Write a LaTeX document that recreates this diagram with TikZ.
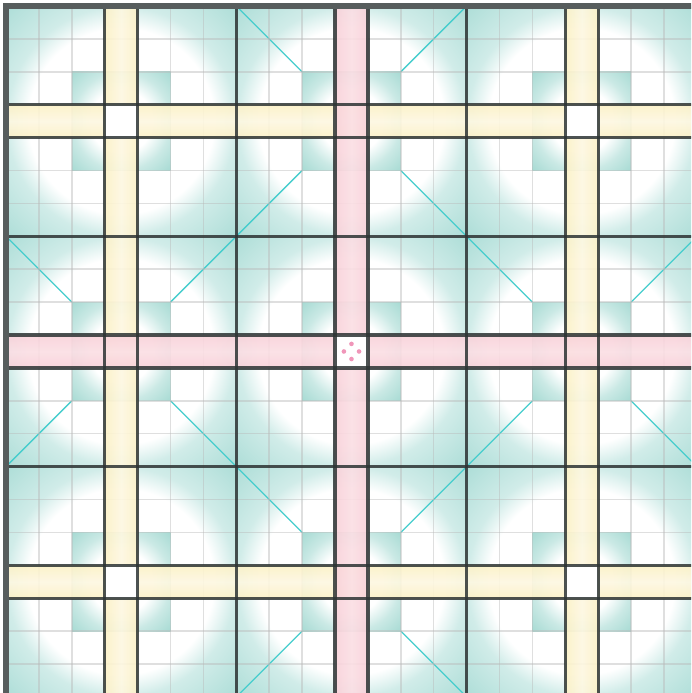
\documentclass[tikz,border=0pt]{standalone}
\usepackage{xcolor}
\usepackage{tikz}
\usetikzlibrary{positioning,calc,backgrounds}
\definecolor{glowteal}{RGB}{145,210,202}
\definecolor{coreteal}{RGB}{130,203,193}
\definecolor{diagcyan}{RGB}{70,205,205}
\definecolor{bandyel}{RGB}{250,234,170}
\definecolor{bandpink}{RGB}{247,196,206}
\definecolor{dotpink}{RGB}{240,150,185}
\definecolor{darkline}{RGB}{45,52,52}
% radii in bp, 1 cell = 28.35bp
\pgfdeclareradialshading{blockglow}{\pgfpoint{0bp}{0bp}}{color(0bp)=(white); color(80bp)=(white); color(99bp)=(glowteal!42); color(141bp)=(glowteal!75)}
\pgfdeclareradialshading{coreglow}{\pgfpoint{0bp}{0bp}}{color(0bp)=(white); color(27bp)=(white); color(42.5bp)=(coreteal!42); color(61bp)=(coreteal!72)}
\pgfdeclarehorizontalshading{bandyelshade}{100bp}{color(0bp)=(bandyel); color(50bp)=(bandyel!35); color(100bp)=(bandyel)}
\pgfdeclarehorizontalshading{bandpinkshade}{100bp}{color(0bp)=(bandpink); color(50bp)=(bandpink!55); color(100bp)=(bandpink)}
\tikzset{
  glow/.style={path picture={\pgftransformshift{\pgfpointanchor{path picture bounding box}{center}}%
    \pgflowlevelsynccm\pgfuseshading{#1}}},
  blockbox/.style={rectangle,minimum size=7cm,inner sep=0pt,outer sep=0pt,fill=white,glow=blockglow},
  corebox/.style={rectangle,minimum size=3cm,inner sep=0pt,outer sep=0pt,fill=white,glow=coreglow},
  vband/.style={rectangle,minimum width=1cm,minimum height=21cm,inner sep=0pt,outer sep=0pt,
    shade,shading=#1,opacity=0.9},
  hband/.style={rectangle,minimum width=21cm,minimum height=1cm,inner sep=0pt,outer sep=0pt,
    shade,shading=#1,shading angle=90,opacity=0.9},
  hole/.style={rectangle,minimum size=1cm,inner sep=0pt,outer sep=0pt,fill=white},
  pip/.style={circle,minimum size=0.14cm,inner sep=0pt,fill=dotpink},
  diag/.style={draw=diagcyan,line width=1.1pt},
  gridline/.style={draw=gray!55,line width=1.3pt,opacity=0.45},
  seam/.style={draw=darkline,line width=3pt,opacity=0.85},
  frame/.style={draw=darkline!80,line width=4.5pt}
}
\begin{document}
\begin{tikzpicture}[x=1cm,y=-1cm]
    \useasboundingbox (-0.182,-0.182) rectangle (20.82,20.88);
    \clip (-0.182,-0.182) rectangle (20.82,20.88);

    % Blocks
    \foreach \i in {0,1,2} {
      \foreach \j in {0,1,2} {
        \node[blockbox] (b-\i-\j) at ({7*\i+3.5},{7*\j+3.5}) {};
        \node[corebox] (c-\i-\j) at ({7*\i+3.5},{7*\j+3.5}) {};
      }
    }

    % Diagonals
    \foreach \i/\j in {1/0,0/1,2/1,1/2} {
      \draw[diag] (b-\i-\j.north west) -- (c-\i-\j.north west);
      \draw[diag] (b-\i-\j.north east) -- (c-\i-\j.north east);
      \draw[diag] (b-\i-\j.south west) -- (c-\i-\j.south west);
      \draw[diag] (b-\i-\j.south east) -- (c-\i-\j.south east);
    }

    % Grid
    \foreach \k in {1,...,20} {
      \draw[gridline] (\k,0) -- (\k,21);
      \draw[gridline] (0,\k) -- (21,\k);
    }

    % Yellow bands
    \node[hband=bandyelshade] (hy-top) at (10.5,3.5) {};
    \node[hband=bandyelshade] (hy-bot) at (10.5,17.5) {};
    \node[vband=bandyelshade] (vy-left) at (3.5,10.5) {};
    \node[vband=bandyelshade] (vy-right) at (17.5,10.5) {};
    \foreach \x/\y in {3.5/3.5,17.5/3.5,3.5/17.5,17.5/17.5}
      \node[hole] at (\x,\y) {};

    % Pink bands
    \node[hband=bandpinkshade] (hp-mid) at (10.5,10.5) {};
    \node[vband=bandpinkshade] (vp-mid) at (10.5,10.5) {};
    \node[hole] (heart) at (10.5,10.5) {};
    \node[pip] (pip-n) at (10.5,10.27) {};
    \node[pip] (pip-s) at (10.5,10.73) {};
    \node[pip] (pip-w) at (10.27,10.5) {};
    \node[pip] (pip-e) at (10.73,10.5) {};

    % Seams
    \foreach \k in {3,4,7,10,11,14,17,18} {
      \draw[seam] (\k,0) -- (\k,21);
      \draw[seam] (0,\k) -- (21,\k);
    }
    \draw[frame] (0,0) rectangle (21,21);
  \end{tikzpicture}
\end{document}
